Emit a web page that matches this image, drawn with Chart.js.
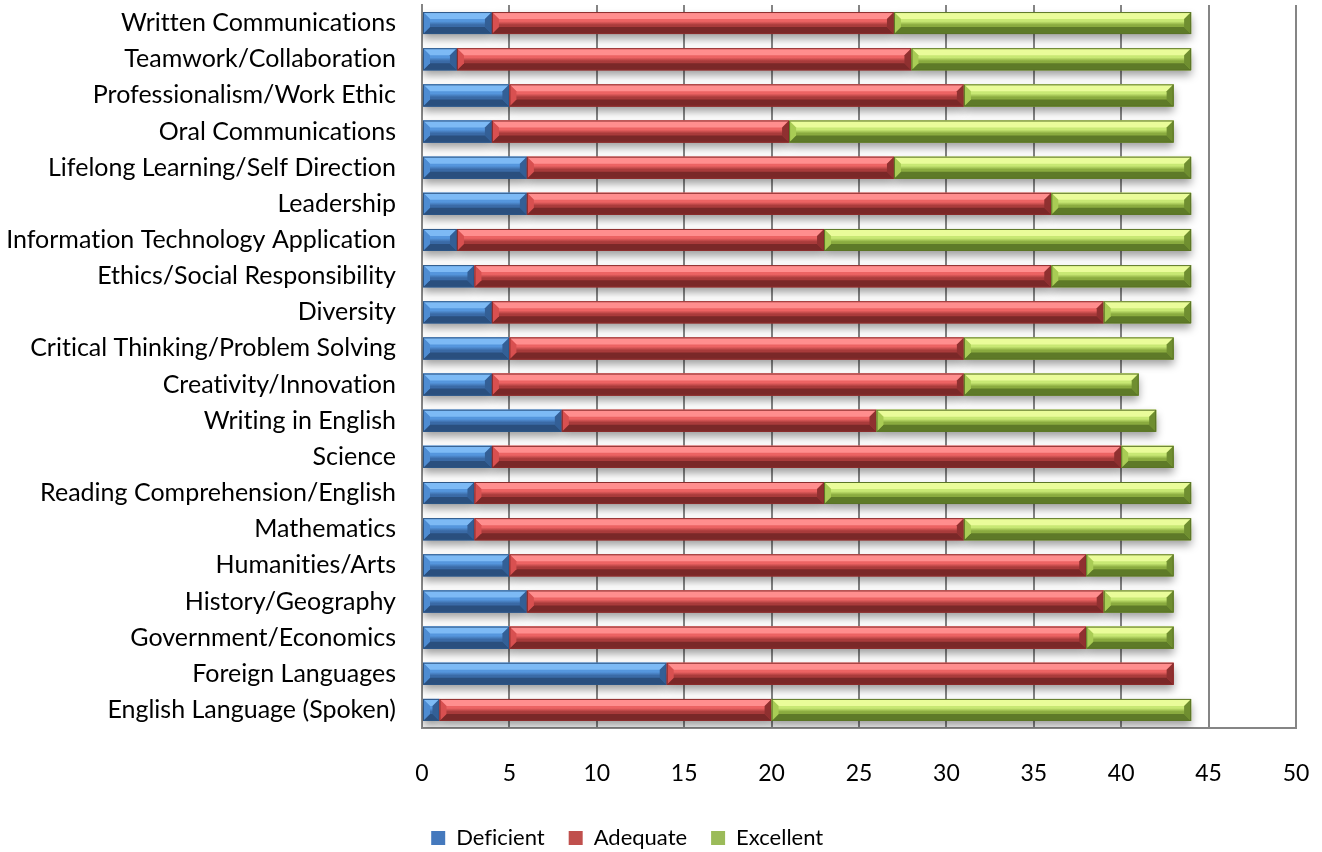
<!DOCTYPE html>
<html>
<head>
<meta charset="utf-8">
<script src="https://cdn.jsdelivr.net/npm/chart.js@4.4.0/dist/chart.umd.min.js"></script>
<style>
  html, body { margin: 0; padding: 0; background: #fff; }
  #wrap { width: 1322px; height: 852px; }
</style>
</head>
<body>
<div id="wrap"><canvas id="skillsChart" width="1322" height="852"></canvas></div>
<script>
// categories, top to bottom
const categories = [
    'Written Communications',
    'Teamwork/Collaboration',
    'Professionalism/Work Ethic',
    'Oral Communications',
    'Lifelong Learning/Self Direction',
    'Leadership',
    'Information Technology Application',
    'Ethics/Social Responsibility',
    'Diversity',
    'Critical Thinking/Problem Solving',
    'Creativity/Innovation',
    'Writing in English',
    'Science',
    'Reading Comprehension/English',
    'Mathematics',
    'Humanities/Arts',
    'History/Geography',
    'Government/Economics',
    'Foreign Languages',
    'English Language (Spoken)'
];
const deficient = [4, 2, 5, 4, 6, 6, 2, 3, 4, 5, 4, 8, 4, 3, 3, 5, 6, 5, 14, 1];
const adequate  = [23, 26, 26, 17, 21, 30, 21, 33, 35, 26, 27, 18, 36, 20, 28, 33, 33, 33, 29, 19];
const excellent = [17, 16, 12, 22, 17, 8, 21, 8, 5, 12, 10, 16, 3, 21, 13, 5, 4, 5, 0, 24];
const xTickValues = [0, 5, 10, 15, 20, 25, 30, 35, 40, 45, 50];

const seriesNames = ['Deficient', 'Adequate', 'Excellent'];
const baseColors = ['#4579bd', '#c0504d', '#9bbb59'];

// bevel shades per series: top edge, face top, face bottom, bottom edge, left, right, outline
const bevelShades = [
    { top: '#7dbaf5', up: '#5596dd', down: '#3a6aa6', bottom: '#2a4f7e', left: '#4e8cd2', right: '#335f96', line: '#2c5585' },
    { top: '#ff8e8e', up: '#ec6363', down: '#a93b3b', bottom: '#7a2828', left: '#d85050', right: '#8f3030', line: '#8a2c2c' },
    { top: '#eafc9a', up: '#c8e874', down: '#8aab3f', bottom: '#5e7a28', left: '#a9cc55', right: '#6f8e30', line: '#5b7426' }
];

const FONT = 'Lato, "Open Sans", sans-serif';
const LEGEND_PAD = 24;
const LEGEND_FONT = 22;

function poly(ctx, pts, color) {
    ctx.beginPath();
    ctx.moveTo(pts[0][0], pts[0][1]);
    for (let i = 1; i < pts.length; i++) ctx.lineTo(pts[i][0], pts[i][1]);
    ctx.closePath();
    ctx.fillStyle = color;
    ctx.fill();
}

// gives the bars a bevelled look and soft shadow
const bevelPlugin = {
    id: 'bevel',
    beforeDraw(chart) {
        // no "ti"/"fi" ligatures, the original font has none
        chart.ctx.textRendering = 'optimizeSpeed';
    },
    beforeDatasetsDraw(chart) {
        const ctx = chart.ctx;
        ctx.save();
        ctx.shadowColor = 'rgba(0,0,0,0.38)';
        ctx.shadowBlur = 9;
        ctx.shadowOffsetX = 0;
        ctx.shadowOffsetY = 5;
    },
    afterDatasetsDraw(chart) {
        const ctx = chart.ctx;
        ctx.restore();
        chart.data.datasets.forEach((ds, di) => {
            const meta = chart.getDatasetMeta(di);
            const c = bevelShades[di];
            meta.data.forEach(el => {
                const p = el.getProps(['x', 'y', 'base', 'height'], true);
                const l = Math.min(p.x, p.base), r = Math.max(p.x, p.base);
                const w = r - l;
                if (w < 0.5) return;
                const t = p.y - p.height / 2, b = p.y + p.height / 2;
                const e = Math.min(7, w / 2, p.height / 3);
                const g = ctx.createLinearGradient(0, t, 0, b);
                g.addColorStop(0, c.up);
                g.addColorStop(0.42, c.up);
                g.addColorStop(0.58, c.down);
                g.addColorStop(1, c.down);
                ctx.save();
                poly(ctx, [[l, t], [r, t], [r, b], [l, b]], g);
                poly(ctx, [[l, t], [r, t], [r - e, t + e], [l + e, t + e]], c.top);
                poly(ctx, [[l, b], [r, b], [r - e, b - e], [l + e, b - e]], c.bottom);
                poly(ctx, [[l, t], [l + e, t + e], [l + e, b - e], [l, b]], c.left);
                poly(ctx, [[r, t], [r - e, t + e], [r - e, b - e], [r, b]], c.right);
                ctx.strokeStyle = c.line;
                ctx.lineWidth = 1;
                ctx.strokeRect(l + 0.5, t + 0.5, w - 1, p.height - 1);
                ctx.restore();
            });
        });
    },
    afterLayout(chart) {
        // put the legend where the original has it
        const lg = chart.legend;
        if (!lg) return;
        const dx = 627 - (lg.left + lg.right) / 2;
        lg.left += dx;
        lg.right += dx;
        const top = 838 - LEGEND_PAD - LEGEND_FONT / 2;
        lg.bottom += top - lg.top;
        lg.top = top;
    }
};

document.addEventListener('DOMContentLoaded', function() {
    const ctx = document.getElementById('skillsChart').getContext('2d');
    const seriesData = [deficient, adequate, excellent];

    new Chart(ctx, {
        type: 'bar',
        data: {
            labels: categories,
            datasets: seriesNames.map((name, i) => ({
                label: name,
                data: seriesData[i],
                backgroundColor: baseColors[i],
                borderWidth: 0,
                barPercentage: 0.61,
                categoryPercentage: 1.0
            }))
        },
        options: {
            indexAxis: 'y',
            responsive: false,
            devicePixelRatio: 1,
            animation: false,
            layout: { padding: { top: 5, right: 26, left: 0, bottom: 0 } },
            scales: {
                x: {
                    stacked: true,
                    min: 0,
                    max: 50,
                    afterBuildTicks(scale) {
                        scale.ticks = xTickValues.map(v => ({ value: v }));
                    },
                    afterFit(scale) {
                        scale.height = 68;
                        scale.paddingLeft = 0;
                        scale.paddingRight = 0;
                    },
                    grid: { color: '#858585', lineWidth: 2, drawTicks: false },
                    border: { color: '#858585', width: 2 },
                    ticks: { color: '#000', padding: 32, font: { family: FONT, size: 23 } }
                },
                y: {
                    stacked: true,
                    afterFit(scale) {
                        scale.width = 422;
                        scale.paddingTop = 0;
                        scale.paddingBottom = 0;
                    },
                    grid: { display: false, drawTicks: false },
                    border: { color: '#858585', width: 2 },
                    ticks: { color: '#000', padding: 26, autoSkip: false, font: { family: FONT, size: 25 } }
                }
            },
            plugins: {
                legend: {
                    position: 'bottom',
                    labels: {
                        color: '#000',
                        boxWidth: 14,
                        boxHeight: 14,
                        padding: LEGEND_PAD,
                        font: { family: FONT, size: LEGEND_FONT }
                    }
                },
                tooltip: { enabled: false }
            }
        },
        plugins: [bevelPlugin]
    });
});
</script>
</body>
</html>
